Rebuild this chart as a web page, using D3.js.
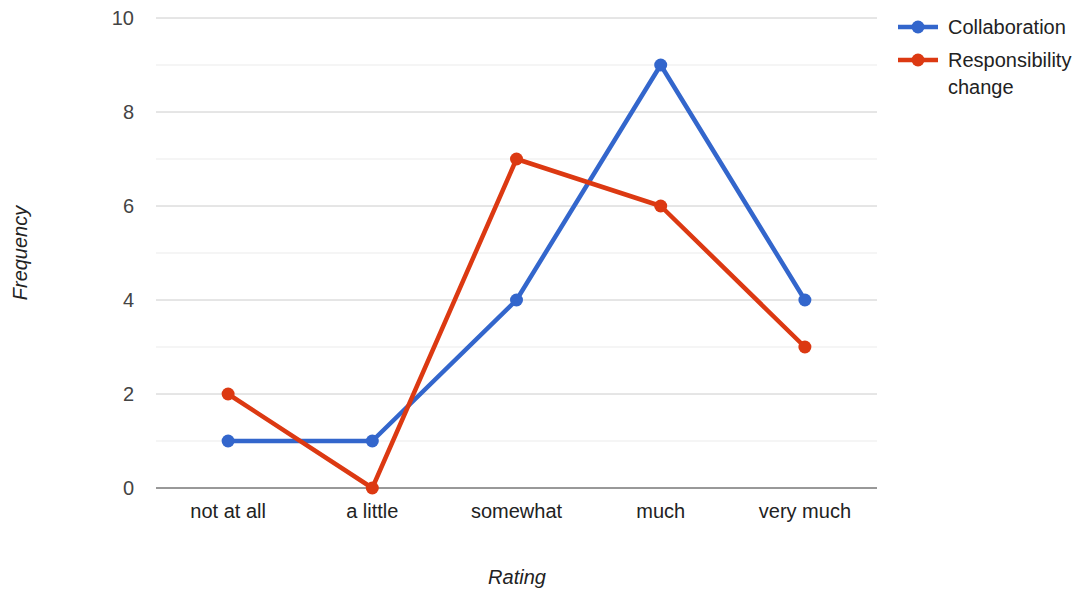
<!DOCTYPE html>
<html><head><meta charset="utf-8">
<script src="https://cdn.jsdelivr.net/npm/d3@7"></script>
<style>body{margin:0;background:#fff;} svg{font-family:"Liberation Sans",Arial,sans-serif;}</style>
</head><body><svg id="c" width="1081" height="593"></svg>
<script>
const categories = ["not at all","a little","somewhat","much","very much"];
const collaboration = [1,1,4,9,4];
const responsibility = [2,0,7,6,3];
const yTicks = [0,2,4,6,8,10];
const seriesNames = ["Collaboration","Responsibility change"];
const colors = ["#3366cc","#dc3912"];

const svg = d3.select("#c");
const L=156, R=877, T=18, B=488;
const x = d3.scalePoint().domain(categories).range([L,R]).padding(0.5);
const y = d3.scaleLinear().domain([0,10]).range([B,T]);
const FS = 20;

// gridlines
const minor = d3.range(1,10,2);
svg.append("g").selectAll("line").data(minor).join("line")
  .attr("x1",L).attr("x2",R).attr("y1",d=>y(d)).attr("y2",d=>y(d))
  .attr("stroke","#ebebeb").attr("stroke-width",1);
svg.append("g").selectAll("line").data(yTicks.filter(d=>d>0)).join("line")
  .attr("x1",L).attr("x2",R).attr("y1",d=>y(d)).attr("y2",d=>y(d))
  .attr("stroke","#cccccc").attr("stroke-width",1);

// y labels
svg.append("g").selectAll("text").data(yTicks).join("text")
  .attr("x",134).attr("y",d=>y(d)).attr("dy","0.35em").attr("text-anchor","end")
  .attr("font-size",FS).attr("fill","#444").text(d=>d);

// x labels
svg.append("g").selectAll("text").data(categories).join("text")
  .attr("x",d=>x(d)).attr("y",518).attr("text-anchor","middle")
  .attr("font-size",FS).attr("fill","#222").text(d=>d);

// baseline
svg.append("line").attr("x1",L).attr("x2",R).attr("y1",B).attr("y2",B)
  .attr("stroke","#333").attr("stroke-width",1);

// axis titles
svg.append("text").attr("x",517).attr("y",584).attr("text-anchor","middle")
  .attr("font-size",FS).attr("font-style","italic").attr("fill","#222").text("Rating");
svg.append("text").attr("transform","translate(27,253) rotate(-90)").attr("text-anchor","middle")
  .attr("font-size",FS).attr("font-style","italic").attr("fill","#222").text("Frequency");

const line = d3.line().x((d,i)=>x(categories[i])).y(d=>y(d));
[collaboration, responsibility].forEach((vals,si)=>{
  svg.append("path").datum(vals).attr("d",line).attr("fill","none")
    .attr("stroke",colors[si]).attr("stroke-width",4.5).attr("stroke-linejoin","round");
  svg.append("g").selectAll("circle").data(vals).join("circle")
    .attr("cx",(d,i)=>x(categories[i])).attr("cy",d=>y(d)).attr("r",6.5).attr("fill",colors[si]);
});

// legend
const leg = svg.append("g");
const legY = [27,60];
seriesNames.forEach((n,i)=>{
  leg.append("line").attr("x1",898).attr("x2",938).attr("y1",legY[i]).attr("y2",legY[i])
    .attr("stroke",colors[i]).attr("stroke-width",4.5);
  leg.append("circle").attr("cx",918).attr("cy",legY[i]).attr("r",6.5).attr("fill",colors[i]);
});
leg.append("text").attr("x",948).attr("y",legY[0]).attr("dy","0.35em").attr("font-size",FS).attr("fill","#222").text("Collaboration");
const t2 = leg.append("text").attr("x",948).attr("y",legY[1]).attr("dy","0.35em").attr("font-size",FS).attr("fill","#222");
t2.append("tspan").attr("x",948).text("Responsibility");
t2.append("tspan").attr("x",948).attr("dy","1.35em").text("change");
</script></body></html>
